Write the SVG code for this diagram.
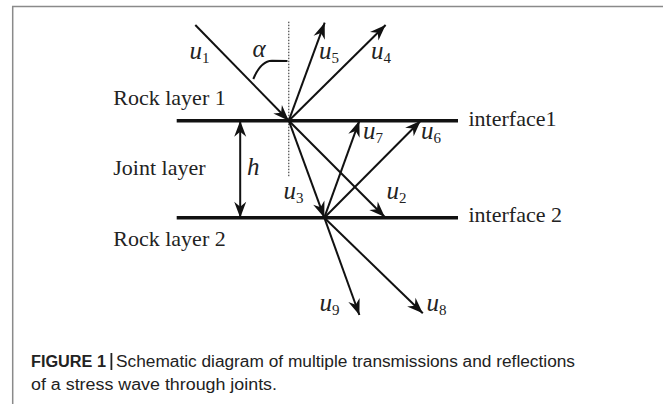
<svg xmlns="http://www.w3.org/2000/svg" width="663" height="404" viewBox="0 0 663 404">
<style>
.ray{stroke:#111;stroke-width:2;fill:none}
.iface{stroke:#111;stroke-width:3.4;fill:none}
.lbl{font-family:"Liberation Serif",serif;font-size:22px;fill:#222}
.u{font-family:"Liberation Serif",serif;font-style:italic;font-size:25px;fill:#222}
.sub{font-style:normal;font-size:15px}
.cap{font-family:"Liberation Sans",Arial,sans-serif;font-size:16px;fill:#222}
</style>
<defs>
<marker id="ah" viewBox="-17 -7 18 14" refX="0" refY="0" markerWidth="18" markerHeight="14" markerUnits="userSpaceOnUse" orient="auto-start-reverse">
<path d="M0,0 L-16,-6 L-11,0 L-16,6 Z" fill="#111"/>
</marker>
</defs>
<rect width="663" height="404" fill="#fff"/>
<path d="M12.7,404 V6.5 H663" stroke="#8a8a8a" stroke-width="1.5" fill="none"/>

<g id="interfaces">
<line class="iface" x1="176.7" y1="120.7" x2="458" y2="120.7"/>
<line class="iface" x1="176.7" y1="217.7" x2="458" y2="217.7"/>
</g>
<g id="normal">
<line x1="288.8" y1="21.7" x2="288.8" y2="176.7" stroke="#222" stroke-width="1" stroke-dasharray="1.5,1.5"/>
</g>
<g id="connectors">
<line class="ray" x1="195.3" y1="25" x2="288.8" y2="120.7" marker-end="url(#ah)"/>
<line class="ray" x1="288.8" y1="120.7" x2="324.7" y2="22.7" marker-end="url(#ah)"/>
<line class="ray" x1="288.8" y1="120.7" x2="385.6" y2="25" marker-end="url(#ah)"/>
<line class="ray" x1="288.8" y1="120.7" x2="324.3" y2="217.7" marker-end="url(#ah)"/>
<line class="ray" x1="288.8" y1="120.7" x2="384.8" y2="217" marker-end="url(#ah)"/>
<line class="ray" x1="324.3" y1="217.7" x2="359.4" y2="120.7" marker-end="url(#ah)"/>
<line class="ray" x1="324.3" y1="217.7" x2="420.7" y2="120.7" marker-end="url(#ah)"/>
<line class="ray" x1="324.3" y1="217.7" x2="359.4" y2="315" marker-end="url(#ah)"/>
<line class="ray" x1="324.3" y1="217.7" x2="422.8" y2="313.3" marker-end="url(#ah)"/>
<line class="ray" x1="240.2" y1="120.7" x2="240.2" y2="217.7" marker-start="url(#ah)" marker-end="url(#ah)"/>
<path class="ray" d="M253.3,79 C257,70 263,61 272,60.7 L287.5,61" stroke-width="1.5"/>
</g>

<g id="labels">
<text class="lbl" x="113.3" y="105">Rock layer 1</text>
<text class="lbl" x="113.3" y="175">Joint layer</text>
<text class="lbl" x="113.3" y="246">Rock layer 2</text>
<text class="lbl" x="468.5" y="125.5">interface1</text>
<text class="lbl" x="468.5" y="222">interface 2</text>
<text class="u" x="247" y="175">h</text>
<text class="u" x="252.5" y="57">α</text>
<text class="u" x="189.5" y="59">u<tspan class="sub" dy="4">1</tspan></text>
<text class="u" x="319" y="59">u<tspan class="sub" dy="4">5</tspan></text>
<text class="u" x="371" y="59">u<tspan class="sub" dy="4">4</tspan></text>
<text class="u" x="363" y="139">u<tspan class="sub" dy="4">7</tspan></text>
<text class="u" x="421" y="139">u<tspan class="sub" dy="4">6</tspan></text>
<text class="u" x="283.5" y="199">u<tspan class="sub" dy="4">3</tspan></text>
<text class="u" x="386.5" y="199">u<tspan class="sub" dy="4">2</tspan></text>
<text class="u" x="319.5" y="310.5">u<tspan class="sub" dy="4">9</tspan></text>
<text class="u" x="426.5" y="310.5">u<tspan class="sub" dy="4">8</tspan></text>
</g>

<g id="caption">
<text class="cap" x="31" y="366.7" font-weight="bold" textLength="75" lengthAdjust="spacingAndGlyphs">FIGURE 1</text>
<rect x="110.5" y="353" width="1.8" height="17" fill="#222"/>
<text class="cap" x="116" y="366.7" textLength="459" lengthAdjust="spacingAndGlyphs">Schematic diagram of multiple transmissions and reflections</text>
<text class="cap" x="31" y="390" textLength="246" lengthAdjust="spacingAndGlyphs">of a stress wave through joints.</text>
</g>
</svg>
